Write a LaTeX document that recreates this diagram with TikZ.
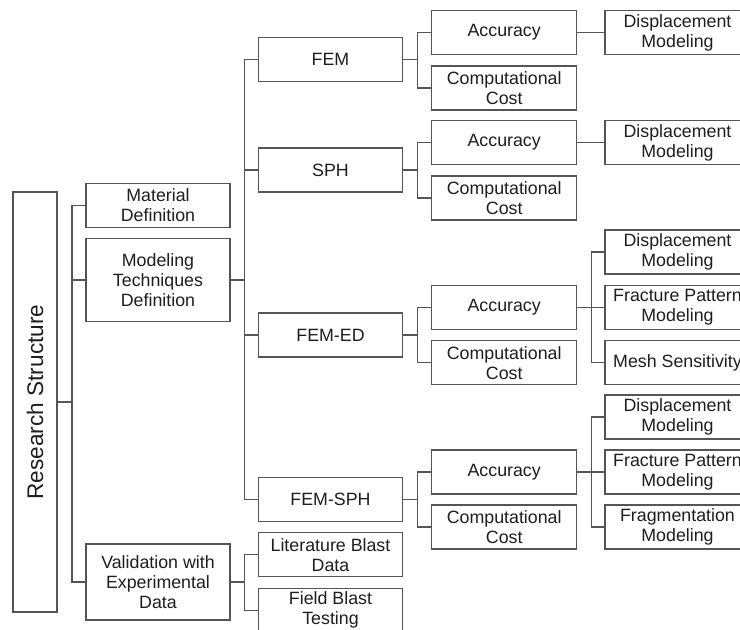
\documentclass[tikz,border=0pt]{standalone}
\usepackage{fontspec}
\setmainfont{Liberation Sans}
\definecolor{ln}{HTML}{555555}
\definecolor{tx}{HTML}{1E1E1E}
\tikzset{
  box/.style={draw=ln, line width=1.2pt, fill=white, minimum width=145pt, minimum height=44pt,
    inner sep=0pt, align=center, text=tx, font=\fontsize{17.8}{20}\selectfont},
  conn/.style={draw=ln, line width=1.2pt},
  bigtext/.style={text=tx, font=\fontsize{22.6}{26}\selectfont, inner sep=0pt},
}
\begin{document}
\begin{tikzpicture}[x=1pt,y=-1pt]
\useasboundingbox (0,0) rectangle (740,630);
\clip (0,0) rectangle (740,630);
\fill[white] (0,0) rectangle (740,630);

% column 1
\node[box, minimum width=44pt, minimum height=420pt] (rs) at (35,402) {};
\node[bigtext, rotate=90] (rst) at (rs.center) {Research Structure};

% column 2
\node[box, minimum width=144pt] (mat) at (158,205.5) {Material\\Definition};
\node[box, minimum width=144pt, minimum height=83.4pt] (mod) at (158,280) {Modeling\\Techniques\\Definition};
\node[box, minimum width=144pt, minimum height=76pt] (val) at (158,582) {Validation with\\Experimental\\Data};

% column 3
\node[box, minimum width=144.4pt] (fem) at (330.5,59.7) {FEM};
\node[box, minimum width=144.4pt] (sph) at (330.5,170) {SPH};
\node[box, minimum width=144.4pt] (fed) at (330.5,335) {FEM-ED};
\node[box, minimum width=144.4pt] (fsph) at (330.5,499.7) {FEM-SPH};
\node[box, minimum width=144.4pt] (lit) at (330.5,554.7) {Literature Blast\\Data};
\node[box, minimum width=144.4pt] (fld) at (330.5,610.3) {Field Blast\\Testing};

% column 4
\node[box] (acc1) at (504.2,32.5) {Accuracy};
\node[box] (cc1) at (504.2,88) {Computational\\Cost};
\node[box] (acc2) at (504.2,142.7) {Accuracy};
\node[box] (cc2) at (504.2,198) {Computational\\Cost};
\node[box] (acc3) at (504.2,307.5) {Accuracy};
\node[box] (cc3) at (504.2,362.7) {Computational\\Cost};
\node[box] (acc4) at (504.2,472) {Accuracy};
\node[box] (cc4) at (504.2,527) {Computational\\Cost};

% column 5
\node[box] (d1) at (677.5,32.5) {Displacement\\Modeling};
\node[box] (d2) at (677.5,142.7) {Displacement\\Modeling};
\node[box] (d3) at (677.5,252) {Displacement\\Modeling};
\node[box] (f3) at (677.5,307.5) {Fracture Pattern\\Modeling};
\node[box] (m3) at (677.5,362.7) {Mesh Sensitivity};
\node[box] (d4) at (677.5,417) {Displacement\\Modeling};
\node[box] (f4) at (677.5,472) {Fracture Pattern\\Modeling};
\node[box] (g4) at (677.5,527) {Fragmentation\\Modeling};

% connectors
\foreach \c in {mat,mod,val} \draw[conn] (rs.east) -- ++(14.3,0) |- (\c.west);
\foreach \c in {fem,sph,fed,fsph} \draw[conn] (mod.east) -- ++(14.1,0) |- (\c.west);
\foreach \c in {lit,fld} \draw[conn] (val.east) -- ++(14.1,0) |- (\c.west);
\foreach \c in {acc1,cc1} \draw[conn] (fem.east) -- ++(14.5,0) |- (\c.west);
\foreach \c in {acc2,cc2} \draw[conn] (sph.east) -- ++(14.5,0) |- (\c.west);
\foreach \c in {acc3,cc3} \draw[conn] (fed.east) -- ++(14.5,0) |- (\c.west);
\foreach \c in {acc4,cc4} \draw[conn] (fsph.east) -- ++(14.5,0) |- (\c.west);
\draw[conn] (acc1.east) -- (d1.west);
\draw[conn] (acc2.east) -- (d2.west);
\foreach \c in {d3,f3,m3} \draw[conn] (acc3.east) -- ++(14.1,0) |- (\c.west);
\foreach \c in {d4,f4,g4} \draw[conn] (acc4.east) -- ++(14.1,0) |- (\c.west);
\end{tikzpicture}
\end{document}
